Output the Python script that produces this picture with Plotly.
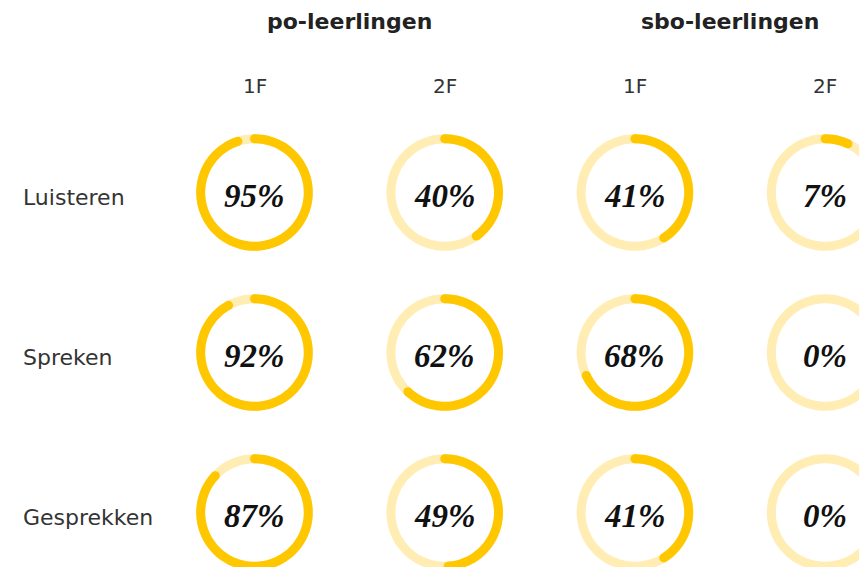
import numpy as np
import plotly.graph_objects as go

# ---- data ----
skills = ["Luisteren", "Spreken", "Gesprekken"]
groups = ["po-leerlingen", "sbo-leerlingen"]
levels = ["1F", "2F"]
po_1F = [95, 92, 87]
po_2F = [40, 62, 49]
sbo_1F = [41, 68, 41]
sbo_2F = [7, 0, 0]

columns = [po_1F, po_2F, sbo_1F, sbo_2F]

# ---- layout constants (screen pixels) ----
W, H = 859, 567
col_x0, col_dx = 254.5, 190.2
row_y0, row_dy = 192.5, 160
R = 53.8          # radius of ring centre-line
RING_W = 9
BRIGHT = "#FFC700"
LIGHT = "#FFEDB3"
SANS = "'DejaVu Sans', sans-serif"
SERIF = "'Liberation Serif', 'DejaVu Serif', serif"

fig = go.Figure()
annotations = []

full = np.linspace(0, 2 * np.pi, 73)
for ci, col in enumerate(columns):
    cx = col_x0 + ci * col_dx
    for ri, v in enumerate(col):
        cy = row_y0 + ri * row_dy
        # background ring
        fig.add_trace(go.Scatter(
            x=cx + R * np.sin(full), y=cy - R * np.cos(full),
            mode="lines", line=dict(color=LIGHT, width=RING_W, shape="spline"),
            hoverinfo="skip", showlegend=False))
        if v > 0:
            phi = np.linspace(0, 2 * np.pi * v / 100, max(int(72 * v / 100), 2) + 1)
            ax = cx + R * np.sin(phi)
            ay = cy - R * np.cos(phi)
            fig.add_trace(go.Scatter(
                x=ax, y=ay, mode="lines",
                line=dict(color=BRIGHT, width=RING_W, shape="spline"),
                hoverinfo="skip", showlegend=False))
            # rounded caps
            fig.add_trace(go.Scatter(
                x=[ax[0], ax[-1]], y=[ay[0], ay[-1]], mode="markers",
                marker=dict(color=BRIGHT, size=RING_W, line=dict(width=0)),
                hoverinfo="skip", showlegend=False))
        annotations.append(dict(
            x=cx, y=cy + 3.5, xref="x", yref="y", text=f"{v}%", showarrow=False,
            font=dict(family=SERIF, size=33, color="#111111",
                      weight="bold", style="italic"),
            xanchor="center", yanchor="middle"))

# group headers
for gi, g in enumerate(groups):
    gx = col_x0 + (2 * gi + 0.5) * col_dx
    annotations.append(dict(
        x=gx, y=21, xref="x", yref="y", text=g, showarrow=False,
        font=dict(family=SANS, size=22, color="#222222", weight="bold"),
        xanchor="center", yanchor="middle"))

# level headers
for ci in range(len(columns)):
    annotations.append(dict(
        x=col_x0 + ci * col_dx, y=86, xref="x", yref="y",
        text=levels[ci % 2], showarrow=False,
        font=dict(family=SANS, size=20, color="#333333"),
        xanchor="center", yanchor="middle"))

# row labels
for ri, s in enumerate(skills):
    annotations.append(dict(
        x=21, y=row_y0 + ri * row_dy + 5, xref="x", yref="y", text=s,
        showarrow=False,
        font=dict(family=SANS, size=22, color="#333333"),
        xanchor="left", yanchor="middle"))

fig.update_layout(
    width=W, height=H,
    margin=dict(l=0, r=0, t=0, b=0),
    paper_bgcolor="white", plot_bgcolor="white",
    xaxis=dict(range=[0, W], visible=False, fixedrange=True),
    yaxis=dict(range=[H, 0], visible=False, fixedrange=True),
    annotations=annotations,
    showlegend=False,
)

fig.write_html(
    "out.html",
    config={"displayModeBar": False},
    post_script="document.body.style.margin='0';document.body.style.overflow='hidden';",
)
